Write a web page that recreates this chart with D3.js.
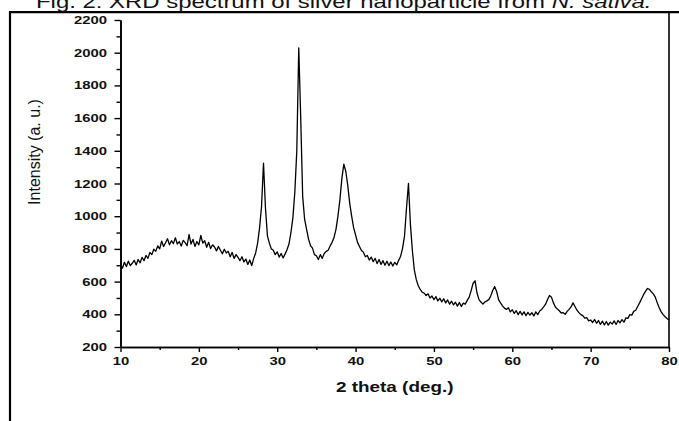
<!DOCTYPE html>
<html>
<head>
<meta charset="utf-8">
<script src="https://cdn.jsdelivr.net/npm/d3@7"></script>
<style>
body { margin: 0; background: #fff; }
svg { display: block; font-family: "Liberation Sans", Arial, sans-serif; }
</style>
</head>
<body>
<svg id="chart" width="679" height="421"></svg>
<script>
//chart data
var thetaStart = 10, thetaStep = 0.25;

//intensity every 0.25 deg from 10 to 80 (4 values per degree)
var intensity = [
	705, 682, 718, 692,   725, 698, 712, 730,   702, 735, 715, 748,   728, 760, 742, 778,   //10-13
	765, 798, 785, 818,   800, 848, 815, 838,   862, 825, 850, 832,   868, 830, 845, 818,   //14-17
	852, 838, 820, 888,   830, 858, 815, 845,   825, 882, 835, 850,   810, 840, 802, 825,   //18-21
	812, 788, 815, 792,   770, 798, 775, 785,   752, 778, 742, 765,   748, 728, 752, 720,   //22-25
	738, 705, 732, 698,   742, 775, 835, 930,   1060, 1325, 1050, 880,   835, 800, 792, 765, //26-29
	782, 750, 772, 745,   768, 795, 830, 900,   990, 1150, 1400, 2030,   1600, 1120, 980, 920, //30-33
	860, 820, 805, 765,   758, 735, 765, 742,   772, 785, 792, 818,   840, 870, 920, 1000,   //34-37
	1100, 1230, 1318, 1275,   1190, 1080, 1000, 930,   885, 840, 815, 790,   780, 752, 760, 732, //38-41
	750, 722, 742, 710,   735, 705, 728, 700,   725, 698, 720, 695,   718, 702, 730, 755,   //42-45
	805, 880, 1050, 1200,   950, 790, 670, 612,   575, 552, 535, 530,   515, 525, 500, 512,  //46-49
	490, 508, 482, 498,   476, 495, 470, 488,   462, 480, 458, 474,   450, 472, 448, 468,   //50-53
	462, 485, 505, 545,   590, 605, 530, 490,   475, 462, 475, 482,   490, 512, 545, 570,   //54-57
	540, 490, 470, 452,   438, 430, 440, 415,   428, 405, 422, 398,   418, 396, 415, 392,   //58-61
	412, 395, 410, 390,   415, 398, 420, 430,   445, 462, 490, 515,   505, 470, 445, 432,   //62-65
	422, 408, 410, 400,   418, 430, 445, 470,   448, 425, 410, 398,   392, 376, 380, 360,   //66-69
	365, 350, 368, 345,   362, 338, 358, 335,   356, 334, 352, 340,   360, 338, 362, 348,   //70-73
	368, 352, 378, 375,   398, 395, 418, 425,   448, 470, 495, 520,   540, 558, 552, 538,   //74-77
	525, 505, 470, 440,   415, 398, 385, 375,   365                                         //78-80
];

var xTicks = [10, 20, 30, 40, 50, 60, 70, 80];
var xMinorTicks = [15, 25, 35, 45, 55, 65, 75];
var yTicks = [200, 400, 600, 800, 1000, 1200, 1400, 1600, 1800, 2000, 2200];
var yMinorTicks = [300, 500, 700, 900, 1100, 1300, 1500, 1700, 1900, 2100];

var titleText = "Fig. 2: XRD spectrum of silver nanoparticle from ";
var titleItalic = "N. sativa.";
var xLabel = "2 theta (deg.)";
var yLabel = "Intensity (a. u.)";

//the original figure is stretched sideways, so text gets widened too
var stretch = 1.35;

var svg = d3.select("#chart");

var x = d3.scaleLinear().domain([10, 80]).range([120.5, 669]);
var y = d3.scaleLinear().domain([200, 2200]).range([347, 20]);

var points = intensity.map(function(v, i) { return [thetaStart + i * thetaStep, v]; });

//outer frame (left + top edges)
svg.append("line").attr("x1", 10).attr("x2", 10).attr("y1", 11).attr("y2", 421)
	.attr("stroke", "#000").attr("stroke-width", 2.2);
svg.append("line").attr("x1", 9).attr("x2", 679).attr("y1", 12.2).attr("y2", 12.2)
	.attr("stroke", "#000").attr("stroke-width", 2.2);

//title, cut by the top edge like in the figure
var title = svg.append("text")
	.attr("transform", "translate(36,8) scale(1.33,1)")
	.style("font-size", "18px")
	.attr("fill", "#111");
title.append("tspan").text(titleText);
title.append("tspan").style("font-style", "italic").text(titleItalic);

//spectrum
var line = d3.line()
	.x(function(d) { return x(d[0]); })
	.y(function(d) { return y(d[1]); });

svg.append("path")
	.datum(points)
	.attr("fill", "none")
	.attr("stroke", "#000")
	.attr("stroke-width", 1.3)
	.attr("stroke-linejoin", "round")
	.attr("d", line);

//axes
function styleAxis(g)
{
	g.select(".domain").attr("stroke", "#000").attr("stroke-width", 1.6);
	g.selectAll(".tick line").attr("stroke", "#000").attr("stroke-width", 1.4);
	g.selectAll("text").attr("fill", "#111").style("font-size", "11px").style("font-weight", "bold").attr("font-family", null);
}

var yAxis = svg.append("g")
	.attr("transform", "translate(" + x.range()[0] + ",0)")
	.call(d3.axisLeft(y).tickValues(yTicks).tickSize(6).tickSizeOuter(0).tickFormat(d3.format("d")))
	.call(styleAxis);
yAxis.selectAll("text").attr("x", -10).attr("transform", "scale(" + stretch + ",1)");

svg.append("g")
	.attr("transform", "translate(" + x.range()[0] + ",0)")
	.call(d3.axisLeft(y).tickValues(yMinorTicks).tickSize(4).tickSizeOuter(0).tickFormat(""))
	.call(styleAxis);

var xAxis = svg.append("g")
	.attr("transform", "translate(0," + y.range()[0] + ")")
	.call(d3.axisBottom(x).tickValues(xTicks).tickSize(5).tickSizeOuter(0).tickFormat(d3.format("d")))
	.call(styleAxis);
xAxis.selectAll("text").attr("y", 10).attr("transform", "scale(" + stretch + ",1)");

svg.append("g")
	.attr("transform", "translate(0," + y.range()[0] + ")")
	.call(d3.axisBottom(x).tickValues(xMinorTicks).tickSize(3).tickSizeOuter(0).tickFormat(""))
	.call(styleAxis);

//right edge of the plot box
svg.append("line")
	.attr("x1", x.range()[1]).attr("x2", x.range()[1])
	.attr("y1", 12).attr("y2", y.range()[0])
	.attr("stroke", "#000").attr("stroke-width", 1.6);

//axis titles
svg.append("text")
	.attr("transform", "translate(" + ((x.range()[0] + x.range()[1]) / 2) + ",392) scale(" + stretch + ",1)")
	.attr("text-anchor", "middle")
	.style("font-size", "14px")
	.style("font-weight", "bold")
	.attr("fill", "#111")
	.text(xLabel);

svg.append("text")
	.attr("transform", "translate(40,152) rotate(-90)")
	.attr("text-anchor", "middle")
	.style("font-size", "16px")
	.attr("fill", "#111")
	.text(yLabel);
</script>
</body>
</html>
